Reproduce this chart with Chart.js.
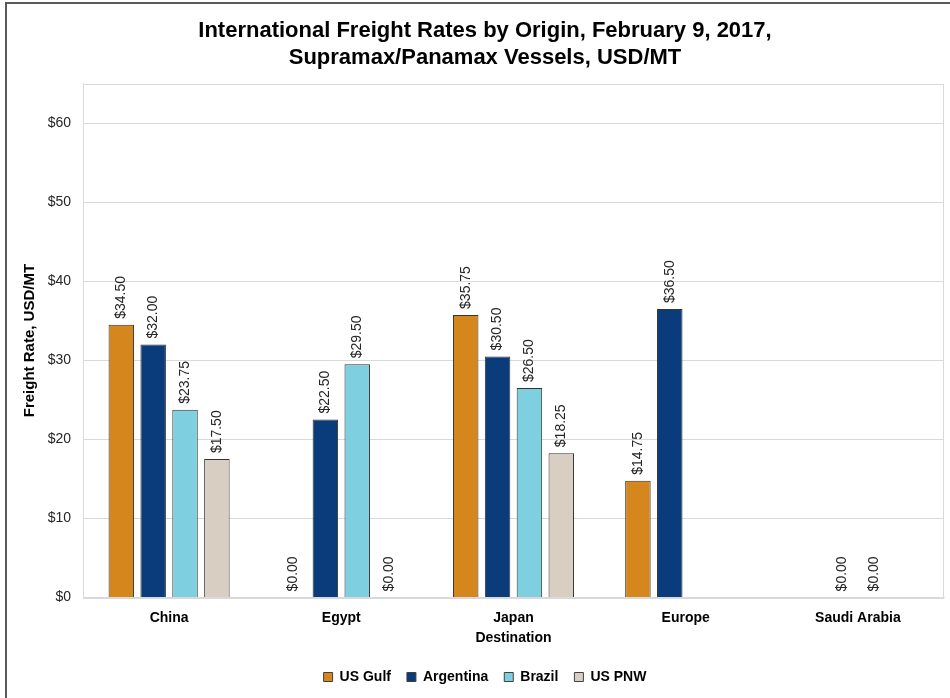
<!DOCTYPE html>
<html>
<head>
<meta charset="utf-8">
<script src="https://cdn.jsdelivr.net/npm/chart.js@4/dist/chart.umd.min.js"></script>
<style>
  html, body { margin: 0; padding: 0; background: #fff; }
  #wrap { position: relative; width: 950px; height: 698px; overflow: hidden; }
  #frame { position: absolute; left: 5px; top: 2px; width: 1000px; height: 1000px;
           border-left: 2px solid #5a5a5a; border-top: 2px solid #5a5a5a; pointer-events: none; }
  canvas { position: absolute; left: 0; top: 0; }
</style>
</head>
<body>
<div id="wrap">
  <canvas id="c" width="950" height="698"></canvas>
  <div id="frame"></div>
</div>
<script>
const categories = ['China', 'Egypt', 'Japan', 'Europe', 'Saudi Arabia'];
const usGulf    = [34.50, 0.00, 35.75, 14.75, null];
const argentina = [32.00, 22.50, 30.50, 36.50, 0.00];
const brazil    = [23.75, 29.50, 26.50, null, 0.00];
const usPnw     = [17.50, 0.00, 18.25, null, null];
const seriesNames = ['US Gulf', 'Argentina', 'Brazil', 'US PNW'];
const yTicks = [0, 10, 20, 30, 40, 50, 60];

const FONT = "'Liberation Sans', Arial, sans-serif";
const colors = ['#D5861C', '#0A3C7C', '#7ECFE0', '#D8CFC2'];
const seriesData = [usGulf, argentina, brazil, usPnw];

const plotBorder = {
  id: 'plotBorder',
  beforeDatasetsDraw(chart) {
    const a = chart.chartArea, ctx = chart.ctx;
    ctx.save();
    ctx.strokeStyle = '#d9d9d9';
    ctx.lineWidth = 1;
    ctx.strokeRect(Math.round(a.left) + 0.5, Math.round(a.top) + 0.5,
                   Math.round(a.right - a.left) - 1, Math.round(a.bottom - a.top));
    ctx.restore();
  }
};

const barLabels = {
  id: 'barLabels',
  afterDatasetsDraw(chart) {
    const ctx = chart.ctx;
    ctx.save();
    ctx.font = '14px ' + FONT;
    ctx.fillStyle = '#262626';
    ctx.textAlign = 'left';
    ctx.textBaseline = 'middle';
    chart.data.datasets.forEach((ds, di) => {
      const meta = chart.getDatasetMeta(di);
      meta.data.forEach((bar, i) => {
        const v = ds.data[i];
        if (v === null || v === undefined) return;
        ctx.save();
        ctx.translate(bar.x, bar.y - 6);
        ctx.rotate(-Math.PI / 2);
        ctx.fillText('$' + v.toFixed(2), 0, 0);
        ctx.restore();
      });
    });
    ctx.restore();
  }
};

new Chart(document.getElementById('c'), {
  type: 'bar',
  data: {
    labels: categories,
    datasets: seriesNames.map((name, k) => ({
      label: name,
      data: seriesData[k],
      backgroundColor: colors[k],
      borderColor: '#333333',
      borderWidth: (c) => (c.raw ? 1 : 0),
      borderSkipped: 'start',
      barPercentage: 0.8,
      categoryPercentage: 0.74
    }))
  },
  options: {
    responsive: false,
    animation: false,
    devicePixelRatio: 1,
    layout: { padding: { left: 26, right: 6, top: 0, bottom: 4 } },
    plugins: {
      title: {
        display: true,
        text: ['International Freight Rates by Origin, February 9, 2017,', 'Supramax/Panamax Vessels, USD/MT'],
        color: '#000',
        font: { family: FONT, size: 22, weight: 'bold', lineHeight: 1.2 },
        padding: { top: 18, bottom: 13 }
      },
      legend: {
        position: 'bottom',
        labels: {
          color: '#000',
          font: { family: FONT, size: 14, weight: 'bold' },
          boxWidth: 9,
          boxHeight: 9,
          padding: 16,
          generateLabels(chart) {
            return chart.data.datasets.map((ds, i) => ({
              text: ds.label,
              fillStyle: ds.backgroundColor,
              strokeStyle: '#404040',
              lineWidth: 1,
              hidden: false,
              datasetIndex: i
            }));
          }
        }
      },
      tooltip: { enabled: false }
    },
    scales: {
      x: {
        grid: { display: false, drawTicks: false },
        border: { color: '#d9d9d9' },
        ticks: { color: '#000', font: { family: FONT, size: 14, weight: 'bold' }, padding: 12, maxRotation: 0 },
        title: { display: true, text: 'Destination', color: '#000',
                 font: { family: FONT, size: 14, weight: 'bold' }, padding: { top: -8, bottom: 7 } }
      },
      y: {
        min: 0,
        max: 65,
        afterBuildTicks(scale) { scale.ticks = yTicks.map(v => ({ value: v })); },
        afterFit(scale) { scale.width = 57; },
        grid: { color: '#d9d9d9', drawTicks: false },
        border: { color: '#d9d9d9' },
        ticks: { color: '#262626', font: { family: FONT, size: 14 }, padding: 12,
                 callback: (v) => '$' + v },
        title: { display: true, text: 'Freight Rate, USD/MT', color: '#000',
                 font: { family: FONT, size: 15, weight: 'bold' }, padding: { top: -5, bottom: 0 } }
      }
    }
  },
  plugins: [plotBorder, barLabels]
});
</script>
</body>
</html>
